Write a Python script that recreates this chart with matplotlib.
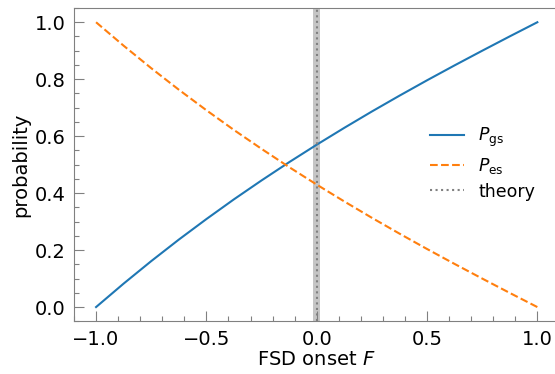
import numpy as np
import matplotlib
matplotlib.use("Agg")
import matplotlib.pyplot as plt
from matplotlib.ticker import MultipleLocator

F = [-1.0, -0.875, -0.75, -0.625, -0.5, -0.375, -0.25, -0.125, 0.0,
     0.125, 0.25, 0.375, 0.5, 0.625, 0.75, 0.875, 1.0]
p_gs = [0.0, 0.0824, 0.1613, 0.2368, 0.3089, 0.3783, 0.4446, 0.5086, 0.570,
        0.6292, 0.6866, 0.7421, 0.7961, 0.8486, 0.8999, 0.9504, 1.0]
p_es = [1.0, 0.9176, 0.8387, 0.7632, 0.6911, 0.6217, 0.5554, 0.4914, 0.430,
        0.3708, 0.3134, 0.2579, 0.2039, 0.1514, 0.1001, 0.0496, 0.0]
theory_F = 0.0
theory_band = (-0.015, 0.015)

plt.rcParams['font.family'] = ['DejaVu Sans']
plt.rcParams['mathtext.fontset'] = 'dejavusans'

fig = plt.figure(figsize=(5.55, 3.74), dpi=100)
ax = fig.add_axes([74/555, 1-321.3/374, (559.4-74)/555, (321.3-8)/374])

ax.axvspan(theory_band[0], theory_band[1], color='gray', alpha=0.45, lw=0)
ax.plot(F, p_gs, color='#1f77b4', lw=1.5, label=r'$P_{\rm gs}$')
ax.plot(F, p_es, color='#ff7f0e', lw=1.5, ls='--', label=r'$P_{\rm es}$')
ax.axvline(theory_F, color='gray', lw=1.5, ls=':', label='theory')

ax.set_xlim(-1.1, 1.1)
ax.set_ylim(-0.05, 1.05)
ax.xaxis.set_major_locator(MultipleLocator(0.5))
ax.xaxis.set_minor_locator(MultipleLocator(0.1))
ax.yaxis.set_major_locator(MultipleLocator(0.2))
ax.yaxis.set_minor_locator(MultipleLocator(0.05))
ax.tick_params(which='both', direction='in', color='gray', labelsize=14, width=0.8)
ax.tick_params(which='major', length=7, pad=6)
ax.tick_params(which='minor', length=3.5)
for s in ax.spines.values():
    s.set_color('gray')
ax.set_xlabel(r'FSD onset $F$', fontsize=14, labelpad=1)
ax.set_ylabel('probability', fontsize=14, labelpad=3)

ax.legend(frameon=False, fontsize=12.5, loc='center left',
          bbox_to_anchor=(414/555, 1-163/374), bbox_transform=fig.transFigure,
          handlelength=2.0, labelspacing=0.4)

fig.savefig('out.png', dpi=100)
